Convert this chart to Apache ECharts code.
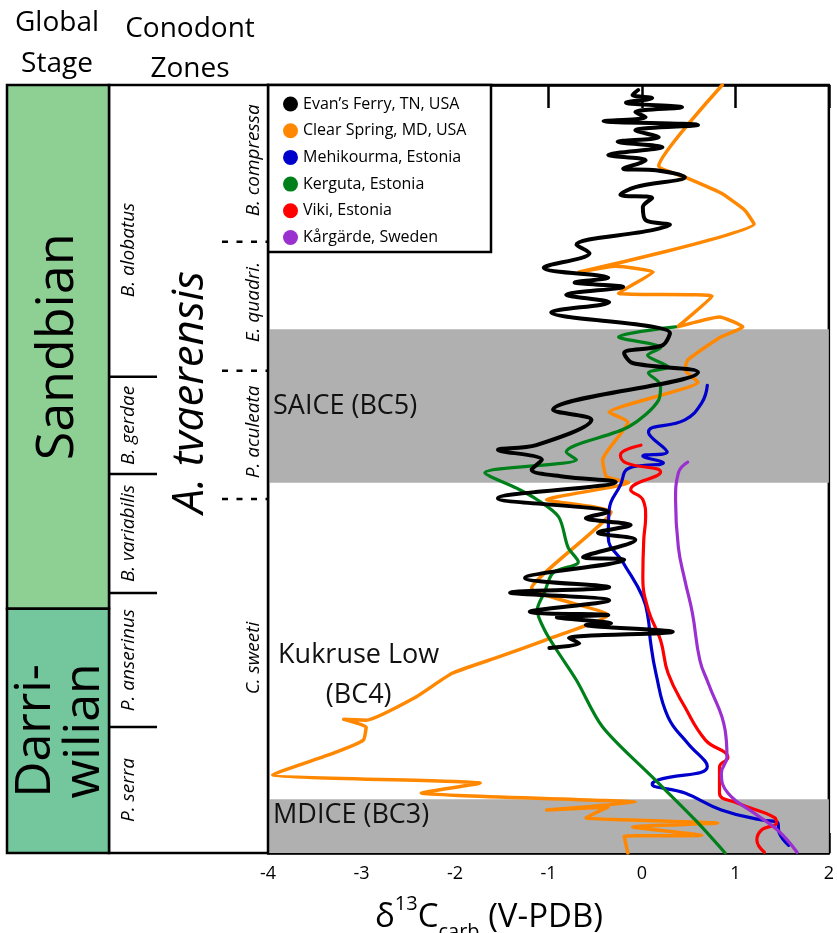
<!DOCTYPE html>
<html>
<head>
<meta charset="utf-8">
<title>δ13C carb – Darriwilian–Sandbian</title>
<script src="https://cdn.jsdelivr.net/npm/echarts@6/dist/echarts.min.js"></script>
<style>
  html, body { margin: 0; padding: 0; background: #fff; }
  #chart { width: 837px; height: 933px; }
</style>
</head>
<body>
<div id="chart"></div>
<script>
// ---------- data: [δ13C carb (‰ V-PDB), stratigraphic height (0–100)] ----------
const xTicks = [-4, -3, -2, -1, 0, 1, 2];

const evansFerry = [
  [-0.04,99.35],[-0.10,98.7],[0.11,98.3],[-0.17,97.7],[0.43,97.1],[-0.07,96.5],[0.04,95.8],
  [-0.41,95.3],[0.60,94.8],[-0.07,94.1],[0.18,93.2],[-0.26,92.6],[0.22,91.9],[-0.36,90.9],
  [0.04,90.2],[-0.20,89.1],[0.15,88.9],[0.46,88.0],[-0.07,86.7],[-0.23,85.7],[0.11,85.3],
  [0.01,84.1],[0.04,82.4],[0.30,81.8],[0.11,81.1],[-0.70,79.2],[-0.56,78.1],[-1.05,76.2],
  [-0.36,74.9],[-0.72,74.3],[-0.20,73.7],[-0.81,72.7],[-0.35,71.7],[-0.97,70.4],[0.30,67.7],
  [0.22,66.1],[-0.19,65.1],[-0.10,63.8],[0.60,62.6],[-0.95,57.7],[-0.54,56.4],[-1.13,53.1],
  [-1.54,52.5],[-1.07,51.2],[-1.18,49.9],[-0.83,49.0],[-0.28,48.3],[-1.54,46.2],[-0.36,44.4],
  [-0.60,43.6],[-0.12,42.7],[-0.47,41.7],[-0.07,40.8],[-0.63,38.5],[-0.19,38.2],[-1.25,35.8],
  [-0.35,34.6],[-1.41,33.9],[-0.35,32.9],[-1.20,31.4],[-0.36,31.0],[-0.91,30.7],[-0.33,29.9],
  [-0.60,29.7],[0.33,28.8],[-0.78,28.0],[-0.67,27.3],[-0.99,26.7]
];

const clearSpring = [
  [0.86,100],[0.18,89.45],[0.46,88.0],[0.85,85.9],[1.10,83.7],[1.20,81.9],[-0.67,75.65],
  [-0.28,76.4],[0.12,75.65],[-0.25,72.9],[0.75,72.5],[0.38,68.5],[0.83,69.8],[1.08,68.5],
  [0.83,67.1],[0.49,64.2],[0.46,62.9],[0.60,61.3],[-0.35,57.4],[-0.15,56.1],[-0.42,51.2],
  [-0.38,49.0],[-0.14,48.2],[-1.02,46.0],[-0.33,44.4],[-1.18,34.5],[-0.36,31.0],[-1.04,27.7],
  [-1.54,25.5],[-2.03,23.4],[-2.42,20.3],[-2.95,17.3],[-3.19,17.4],[-2.95,16.4],[-2.98,14.7],
  [-3.30,13.0],[-3.95,10.2],[-1.73,9.1],[-2.36,7.8],[-0.07,6.6],[-1.02,5.6],[-0.36,6.0],
  [-0.60,4.6],[0.81,3.9],[-0.10,3.4],[0.64,2.3],[-0.19,2.2],[-0.15,0]
];

const mehikourma = [
  [0.70,60.9],[0.64,58.6],[0.46,56.4],[0.07,54.8],[0.27,52.2],[0.01,51.7],[0.23,50.8],
  [-0.14,50.1],[-0.23,47.9],[-0.35,44.7],[-0.36,41.1],[-0.20,37.8],[0.01,33.3],[0.07,30.3],
  [0.09,27.7],[0.15,23.4],[0.28,17.7],[0.49,14.3],[0.70,11.3],[0.17,9.5],[0.11,9.0],
  [0.46,7.8],[0.85,5.6],[1.28,4.3],[1.45,4.0],[1.47,2.6],[1.57,1.0]
];

const kerguta = [
  [0.36,68.5],[-0.25,67.2],[0.20,65.8],[0.06,64.8],[0.28,63.3],[0.07,62.5],[0.20,60.9],
  [0.18,59.0],[-0.14,55.5],[-0.81,52.2],[-0.70,51.2],[-1.68,49.5],[-1.34,47.5],[-1.12,46.0],
  [-0.89,43.75],[-0.79,39.8],[-0.68,37.9],[-0.95,36.5],[-1.04,34.0],[-1.12,31.6],[-1.04,29.0],
  [-0.91,26.4],[-0.70,22.5],[-0.42,16.4],[0.11,9.9],[0.57,4.3],[0.89,0]
];

const viki = [
  [-0.01,53.1],[-0.23,51.8],[-0.17,50.8],[0.20,49.6],[-0.12,47.3],[0.01,46.0],[0.04,43.75],
  [0.02,40.8],[0.01,35.9],[0.07,31.6],[0.20,27.7],[0.28,23.4],[0.46,19.0],[0.68,14.7],
  [0.92,12.4],[0.83,11.2],[0.83,7.8],[1.02,6.5],[1.42,4.6],[1.44,3.9],[1.28,3.0],
  [1.23,1.7],[1.31,0.1]
];

const kargarde = [
  [0.49,50.9],[0.39,49.5],[0.36,46.0],[0.39,39.8],[0.46,35.5],[0.54,31.25],[0.62,25.1],
  [0.71,22.1],[0.89,16.0],[0.91,12.5],[0.85,10.4],[0.92,7.8],[1.20,5.2],[1.45,3.0],[1.66,0.1]
];

// carbon-isotope excursion bands (height ranges)
const bandNames = ['SAICE (BC5)', 'MDICE (BC3)'];
const bandBases = [48.2, 0];
const bandTops  = [68.2, 7.0];

// chronostratigraphy and conodont zonation (height ranges)
const stageNames = ['Sandbian', 'Darri-\nwilian'];
const stageBases = [31.8, 0];
const stageTops  = [100, 31.8];
const stageColors = ['#8ecf94', '#74c69c'];

const zoneNames = ['B. alobatus', 'B. gerdae', 'B. variabilis', 'P. anserinus', 'P. serra'];
const zoneBases = [62.0, 49.35, 33.85, 16.4, 0];
const zoneTops  = [100, 62.0, 49.35, 33.85, 16.4];

const subzoneNames = ['B. compressa', 'E. quadri.', 'P. aculeata', 'C. sweeti'];
const subzoneBases = [79.6, 62.8, 46.1, 0];
const subzoneTops  = [100, 79.6, 62.8, 46.1];

const megazoneName = 'A. tvaerensis';
const megazoneBase = 20;
const megazoneTop = 100;

// ---------- styling ----------
const FONT = '"Open Sans", "Noto Sans", sans-serif';
const INK = '#000';
const BORDER = 2.5;

const sections = [
  { name: 'Clear Spring, MD, USA', data: clearSpring, color: '#ff8800', width: 3.5, smooth: 0.15 },
  { name: 'Mehikourma, Estonia', data: mehikourma, color: '#0000cc', width: 3.2, smooth: 0.45 },
  { name: 'Kerguta, Estonia', data: kerguta, color: '#00801a', width: 3.2, smooth: 0.3 },
  { name: 'Viki, Estonia', data: viki, color: '#ff0000', width: 3.2, smooth: 0.45 },
  { name: 'Kårgärde, Sweden', data: kargarde, color: '#9b30d0', width: 3.2, smooth: 0.45 },
  { name: 'Evan’s Ferry, TN, USA', data: evansFerry, color: '#000000', width: 4, smooth: 0.35 }
];
const legendOrder = ['Evan’s Ferry, TN, USA', 'Clear Spring, MD, USA', 'Mehikourma, Estonia',
  'Kerguta, Estonia', 'Viki, Estonia', 'Kårgärde, Sweden'];

const chart = echarts.init(document.getElementById('chart'), null, { renderer: 'canvas' });

const axisCommon = {
  type: 'value', min: xTicks[0], max: xTicks[xTicks.length - 1], interval: 1,
  splitLine: { show: false },
  axisLine: { show: true, lineStyle: { color: INK, width: BORDER } }
};

const option = {
  animation: false,
  backgroundColor: '#fff',
  grid: { left: 268, right: 2, top: 85, bottom: 80, show: true, borderColor: INK, borderWidth: BORDER,
          backgroundColor: 'transparent' },
  xAxis: [
    Object.assign({}, axisCommon, {
      position: 'bottom',
      axisTick: { show: true, inside: true, length: 20, lineStyle: { color: INK, width: BORDER } },
      axisLabel: { color: INK, fontSize: 18, fontFamily: FONT, margin: 12 }
    }),
    Object.assign({}, axisCommon, {
      position: 'top',
      axisTick: { show: true, inside: true, length: 23, lineStyle: { color: INK, width: BORDER } },
      axisLabel: { show: false }
    })
  ],
  yAxis: {
    type: 'value', min: 0, max: 100,
    axisLine: { show: false }, axisTick: { show: false }, axisLabel: { show: false },
    splitLine: { show: false }
  },
  legend: {
    data: legendOrder, orient: 'vertical', left: 283, top: 96, padding: 0,
    itemWidth: 15, itemHeight: 15, itemGap: 10.7, icon: 'circle',
    textStyle: { color: INK, fontSize: 16, fontFamily: FONT }, z: 10
  },
  series: [
    {
      type: 'line', name: 'bands', data: [], z: 1, silent: true,
      markArea: {
        silent: true,
        itemStyle: { color: '#b0b0b0' },
        label: { show: true, position: 'insideLeft', distance: 5, color: '#111',
                 fontSize: 27, fontFamily: FONT },
        data: bandNames.map((n, i) => [
          { name: n, yAxis: bandBases[i], label: i === 1 ? { offset: [0, -11] } : {} },
          { yAxis: bandTops[i] }
        ])
      }
    }
  ].concat(sections.map(s => ({
    type: 'line', name: s.name, data: s.data, smooth: s.smooth, symbol: 'none',
    z: 2, clip: true,
    itemStyle: { color: s.color },
    lineStyle: { color: s.color, width: s.width, cap: 'round', join: 'round' }
  })))
};

chart.setOption(option);

// ---------- stratigraphic columns, labels and frames ----------
const py = h => chart.convertToPixel({ yAxisIndex: 0 }, h);
const px = x => chart.convertToPixel({ xAxisIndex: 0 }, x);
const yTop = py(100), yBot = py(0);
const colStageL = 7, colStageR = 109, colZoneR = px(-4), zoneDivR = 157, dashL = 222;

const g = [];
const txt = (x, y, text, opts) => g.push({
  type: 'text', x, y, rotation: opts.rot || 0, z: opts.z || 5,
  style: Object.assign({ text, fill: INK, fontFamily: FONT, align: 'center', verticalAlign: 'middle' }, opts.style)
});
const line = (x1, y1, x2, y2, dash) => g.push({
  type: 'line', z: 6, shape: { x1, y1, x2, y2 },
  style: { stroke: INK, lineWidth: BORDER, lineDash: dash || null }
});

// column headers
txt(57, 43.5, 'Global\nStage', { style: { fontSize: 28, lineHeight: 41 } });
txt(190, 49, 'Conodont\nZones', { style: { fontSize: 28, lineHeight: 40 } });

// conodont column background
g.push({ type: 'rect', z: 4, shape: { x: colStageR, y: yTop, width: colZoneR - colStageR, height: yBot - yTop },
         style: { fill: '#fff', stroke: INK, lineWidth: BORDER } });

// stages
stageNames.forEach((n, i) => {
  const t = py(stageTops[i]), b = py(stageBases[i]);
  g.push({ type: 'rect', z: 4, shape: { x: colStageL, y: t, width: colStageR - colStageL, height: b - t },
           style: { fill: stageColors[i], stroke: INK, lineWidth: BORDER } });
  txt(i === 0 ? 58 : 60, (t + b) / 2, n, { rot: Math.PI / 2, style: { fontSize: i === 0 ? 52 : 50, lineHeight: 49 } });
});

// zones (left sub-column)
const zoneLabelShift = [19, 0, 0, 0, 0];
zoneNames.forEach((n, i) => {
  const t = py(zoneTops[i]), b = py(zoneBases[i]);
  if (zoneBases[i] > 0) line(colStageR, b, zoneDivR, b);
  txt(129, (t + b) / 2 + zoneLabelShift[i], n, { rot: Math.PI / 2, style: { fontSize: 19, fontStyle: 'italic' } });
});

// subzones (right sub-column)
const subzoneLabelShift = [-3, -4, -3, -18];
subzoneNames.forEach((n, i) => {
  const t = py(subzoneTops[i]), b = py(subzoneBases[i]);
  if (subzoneBases[i] > 0) line(dashL, b, colZoneR, b, [6, 8.5]);
  txt(254, (t + b) / 2 + subzoneLabelShift[i], n, { rot: Math.PI / 2, style: { fontSize: 19, fontStyle: 'italic' } });
});

// long-ranging zone
txt(190, (py(megazoneTop) + py(megazoneBase)) / 2, megazoneName,
    { rot: Math.PI / 2, style: { fontSize: 44, fontStyle: 'italic' } });

// legend frame
g.push({ type: 'rect', z: 3, shape: { x: colZoneR, y: yTop, width: 223, height: 167 },
         style: { fill: '#fff', stroke: INK, lineWidth: BORDER } });

// Kukruse low annotation
const kp = chart.convertToPixel({ gridIndex: 0 }, [-3.03, 23.2]);
txt(kp[0], kp[1], 'Kukruse Low\n(BC4)', { style: { fontSize: 27, lineHeight: 40, fill: '#111' } });

// x-axis title
g.push({
  type: 'text', x: 489, y: 918, z: 5,
  style: {
    text: '{a|δ}{s|13}{a|C}{b|carb}{a| (V-PDB)}', align: 'center', verticalAlign: 'middle',
    rich: {
      a: { fontSize: 33, fontFamily: FONT, fill: INK, lineHeight: 48 },
      s: { fontSize: 20, fontFamily: FONT, fill: INK, lineHeight: 22, verticalAlign: 'top' },
      b: { fontSize: 20, fontFamily: FONT, fill: INK, lineHeight: 22, verticalAlign: 'bottom' }
    }
  }
});

chart.setOption({ graphic: { elements: g } });
</script>
</body>
</html>
